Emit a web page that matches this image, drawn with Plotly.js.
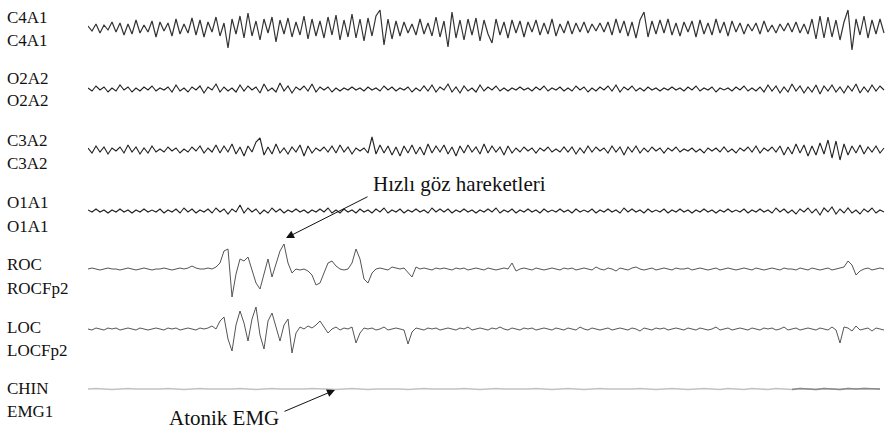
<!DOCTYPE html>
<html><head><meta charset="utf-8">
<script src="https://cdn.plot.ly/plotly-3.0.1.min.js"></script>
<style>html,body{margin:0;padding:0;background:#fff}#chart{width:889px;height:433px}</style>
</head><body><div id="chart"></div>
<script>
// channel labels (two lines each)
const labelsTop = ["C4A1","O2A2","C3A2","O1A1","ROC","LOC","CHIN"];
const labelsBottom = ["C4A1","O2A2","C3A2","O1A1","ROCFp2","LOCFp2","EMG1"];
const sampleStep = 0.15; // seconds between samples
const chinStep = 0.3;

const c4a1 = [2,-3,4,-5,3,-2,6,-4,5,-7, 4,-6,8,-5,3,-4,7,-9,6,-3, 5,-8,9,-6,4,-5,10,-7,8,-9, 6,-4,11,-8,5,-20,9,-6,12,-10,
 15,-8,7,-12,9,-5,11,-14,8,-6, 10,-9,6,-7,12,-11,9,-8,7,-10, 11,-7,13,-12,8,-9,14,-10,9,-13, 10,-8,12,18,-17,9,-11,7,-8,6,
 -5,4,-7,9,-6,5,-8,11,-9,7, -19,16,-10,8,-12,9,-7,10,-13,8, -6,-15,9,-7,6,-10,8,-5,7,-9, 6,-4,8,-7,5,-6,9,-8,4,-5,
 7,-6,5,-4,6,-5,4,-3,5,-4, 6,-7,9,-5,7,-8,6,-10,8,16, -9,7,-6,8,-5,9,-7,5,-8,6, -4,7,-9,8,-6,5,-7,9,-5,6,
 -8,7,-4,5,-6,4,-3,5,-6,7, -4,3,-5,4,-3,5,-4,6,-5,4, -6,9,-11,12,-10,11,-9,8,-12,6, 18,-22,9,-7,12,-10,8,-6,9,-5];

const o2a2 = [1,-2,3,-1,2,-3,1,-2,4,-1, 2,-3,1,-2,2,-1,3,-2,1,-1, 2,-3,4,-2,1,-3,2,-1,3,-4, 2,-1,5,-3,2,-2,1,-3,4,-2,
 3,-1,2,-4,5,-2,1,-3,6,-2, 3,-4,2,-1,3,-2,5,-3,2,-1, 2,-3,1,-2,1,-1,2,-1,1,-2, 2,-1,1,-2,3,-1,2,-2,1,-1,
 2,-3,1,-2,3,-2,4,-3,2,-1, 5,-3,2,-4,3,-2,1,-3,4,-2, 2,-1,3,-2,1,-2,1,-1,2,-1, 1,-2,2,-1,3,-2,1,-1,2,-2,
 1,-2,3,-1,2,-3,1,-2,2,-1, 3,-2,4,-3,2,-1,3,-2,1,-2, 2,-1,1,-2,1,-1,2,-1,1,-2, 2,-1,3,-2,1,-1,2,-3,1,-1,
 1,-2,2,-1,3,-2,1,-2,2,-3, 4,-2,3,-4,2,-3,5,-2,3,-4, 2,-3,4,-5,3,-2,4,-3,2,-4, 3,-2,5,-4,2,-3,4,-2,3,-1];

const c3a2 = [2,-3,4,-2,3,-4,2,-1,3,-3, 5,-2,3,-4,2,-3,4,-2,1,-2, 3,-1,2,-3,1,-2,3,-1,4,-3, 2,-2,5,-3,4,-2,6,-4,3,-6,
 4,-2,8,12,-5,3,-4,6,-3,2, -4,3,-2,5,-6,4,-3,2,-1,3, -2,4,-3,5,-2,3,-4,2,-1,2, -3,13,-4,5,-3,4,-5,3,-6,4,
 -3,5,-4,3,-5,6,-3,4,-2,5, -4,3,-6,4,-3,5,-2,3,-4,6, -3,4,-2,3,-5,4,-3,2,-2,3, -1,2,-3,2,-1,3,-2,1,-2,3,
 -2,3,-4,2,-3,4,-2,3,-1,2, -3,4,-2,3,-5,3,-2,4,-3,2, -2,3,-1,2,-3,2,-1,3,-2,1, -1,2,-2,1,-3,2,-1,2,-2,3,
 -2,1,-3,2,-1,3,-2,4,-3,2, -1,3,-2,4,-5,3,-4,6,-3,5, -6,4,-5,7,-4,10,-8,9,-10,6, -5,4,-3,5,-4,3,-2,4,-3,2];

const o1a1 = [1,-1,2,-1,1,-2,1,-1,2,-1, 1,-2,1,-1,2,-1,1,-1,2,-2, 1,-1,2,-2,3,-1,2,-2,1,-1, 2,-2,3,-1,2,-3,2,-1,6,-2,
 3,-1,2,-3,1,-2,3,-1,2,-2, 1,-1,2,-1,1,-2,1,-1,2,-1, 3,-2,1,-2,2,-1,1,-2,2,-1, 1,-2,2,-1,3,-2,1,-1,2,-2,
 1,-1,2,-1,1,-2,3,-1,2,-1, 2,-2,1,-1,2,-1,1,-2,1,-1, 2,-1,3,-2,1,-1,2,-2,1,-1, 2,-1,1,-2,2,-1,1,-1,2,-1,
 1,-2,2,-1,1,-1,2,-2,1,-1, 2,-1,1,-2,3,-1,2,-1,1,-2, 2,-1,1,-1,2,-2,1,-1,2,-1, 1,-2,1,-1,2,-1,1,-2,1,-1,
 2,-1,1,-1,2,-2,1,-1,2,-1, 1,-2,3,-1,2,-2,1,-3,2,-1, 3,-2,2,-4,3,-1,4,-3,2,-2, 3,-2,1,-3,2,-1,3,-2,1,-1];

const roc = [0,1,0,-1,0,1,0,0,-1,0, 1,0,-1,0,1,0,-1,0,0,1, 0,-1,0,1,0,1,3,1,0,0, 1,0,2,
 6,18,20,-28,-5,10,8,12,-2,-14,-20,-6,10,-8,4,18,25,6,-4,0,
 -1,0,-2,-6,-16,-14,-4,6,8,3,0,-1,0,6,20,10,-10,-14,-4,0,
 1,0,-1,2,1,0,1,
 -3,-8,2,0,1,0,-1,1,0,1, 0,-1,1,0,1,-1,0,1,0,-1, 1,0,-1,0,1,0,6,-2,0,1, 0,-1,1,0,-1,0,1,0,-1,1,
 0,1,-1,0,1,0,-1,2,0,-1, 1,0,-2,1,0,-1,1,2,0,-1, 0,1,-1,0,1,0,-1,1,0,0, 1,-1,0,1,0,-1,0,1,-1,0,
 1,0,-1,0,1,0,-1,1,0,-1, 0,1,0,-1,1,0,0,-1,1,0, -1,1,0,-1,0,1,-1,0,1,2, 8,4,-6,-2,0,1,-1,0,1,0];

const loc = [0,-1,1,0,-1,1,0,1,-1,0, 1,0,-1,1,0,-1,0,1,0,-1, 1,0,1,-1,0,1,0,-1,1,0,
 1,3,0,8,12,-10,-22,4,18,6, -12,10,22,-6,-20,8,16,2,-12,4, 10,-24,-4,2,0,3,1,4,8,2,
 -4,0,2,-1,1,0,2,-14,-4,1, 0,1,-1,0,2,-1,0,1,0,-1, -15,-3,1,0,-1,1,0,1,-1,0, 1,0,-1,1,0,2,-1,0,1,0,
 -1,1,0,2,0,-1,1,0,-1,1, 0,1,-1,0,1,0,-1,1,0,-1, 1,0,-1,2,0,-1,1,0,-1,0, 1,-1,0,1,0,-1,1,0,-2,1,
 0,-1,1,0,1,-1,0,1,0,-1, 1,0,-1,1,0,-1,0,2,-1,0, 1,-1,0,1,0,-1,1,0,-1,1, 0,1,-1,0,2,-1,0,1,-1,0,
 1,0,-1,1,0,-1,2,-1,-14,2, 1,-2,3,-1,0,1,-2,1,0,-1];

const chin = [0,0.5,0,-0.5,0,0.5,0,0,-0.5,0, 0.5,0,-0.5,0,0.5,0,0,-0.5,0,0.5, 0,-0.5,0,0.5,0,0,-0.5,0,0.5,0,
 0,-0.5,0,0.5,0,-0.5,0,0,0.5,0, -0.5,0,0.5,0,0,-0.5,0,0.5,0,-0.5, 0,0.5,0,0,-0.5,0,0.5,0,-0.5,0,
 0.5,0,-0.5,0,0.5,0,0,-0.5,0,0.5, 0,-0.5,0,0.5,0,-0.5,0,0.5,0,-0.5, 0.5,0,-0.5,0.5,0,-0.5,0.5,0,-0.5,0.5, 0,-0.5,0.5,0,-0.5,0.5,0,0.5,0,0];

const W = 889, H = 433;
const channels = [
  {data: c4a1, center: 28, half: 26, color: "#333", width: 1.2, step: sampleStep},
  {data: o2a2, center: 89, half: 26, color: "#222", width: 1.1, step: sampleStep},
  {data: c3a2, center: 150, half: 26, color: "#222", width: 1.1, step: sampleStep},
  {data: o1a1, center: 211, half: 26, color: "#222", width: 1.1, step: sampleStep},
  {data: roc, center: 269, half: 36, color: "#555", width: 1, step: sampleStep},
  {data: loc, center: 329, half: 36, color: "#555", width: 1, step: sampleStep},
  {data: chin, center: 389, half: 10, color: "#c2c2c2", width: 1.5, step: chinStep}
];
const labelY = [[17,40],[78,101],[140,163],[202,226],[264,288],[327,350],[388,411]];

const traces = [];
const layout = {
  width: W, height: H, margin: {l:0,r:0,t:0,b:0},
  paper_bgcolor: "#fff", plot_bgcolor: "#fff", showlegend: false,
  xaxis: {domain: [88/W, 1], range: [0, 801/4*sampleStep], visible: false, fixedrange: true},
  annotations: []
};
channels.forEach((ch, k) => {
  const ax = k === 0 ? "y" : "y" + (k+1);
  const key = k === 0 ? "yaxis" : "yaxis" + (k+1);
  traces.push({
    type: "scatter", mode: "lines",
    x: ch.data.map((_, i) => i * ch.step), y: ch.data,
    xaxis: "x", yaxis: ax,
    line: {color: ch.color, width: ch.width}, hoverinfo: "skip"
  });
  layout[key] = {
    domain: [1 - (ch.center + ch.half)/H, 1 - (ch.center - ch.half)/H],
    range: [-ch.half, ch.half], visible: false, fixedrange: true, anchor: "x"
  };
  [labelsTop[k], labelsBottom[k]].forEach((t, j) => {
    layout.annotations.push({
      text: t, xref: "paper", yref: "paper", x: 5/W, y: 1 - labelY[k][j]/H,
      xanchor: "left", yanchor: "middle", showarrow: false,
      font: {family: "Liberation Serif", size: 17, color: "#111"}
    });
  });
});
// darker right end of the chin EMG line (same data, later samples)
const tailStart = 88;
const chinTail = chin.slice(tailStart);
traces.push({
  type: "scatter", mode: "lines",
  x: chinTail.map((_, i) => (i + tailStart) * chinStep), y: chinTail,
  xaxis: "x", yaxis: "y7", line: {color: "#8a8a8a", width: 1.5}, hoverinfo: "skip"
});
// text annotations
layout.annotations.push({
  text: "Hızlı göz hareketleri", xref: "paper", yref: "paper", x: 371/W, y: 1 - 184/H,
  xanchor: "left", yanchor: "middle", showarrow: false,
  font: {family: "Liberation Serif", size: 21, color: "#111"}
});
layout.annotations.push({
  text: "", xref: "paper", yref: "paper", x: 286/W, y: 1 - 238/H,
  showarrow: true, ax: 83, ay: -42, arrowhead: 2, arrowsize: 1.6, arrowwidth: 1, arrowcolor: "#111"
});
layout.annotations.push({
  text: "Atonik EMG", xref: "paper", yref: "paper", x: 281/W, y: 1 - 418/H,
  xanchor: "right", yanchor: "middle", showarrow: false,
  font: {family: "Liberation Serif", size: 21, color: "#111"}
});
layout.annotations.push({
  text: "", xref: "paper", yref: "paper", x: 335/W, y: 1 - 390/H,
  showarrow: true, ax: -52, ay: 22, arrowhead: 2, arrowsize: 1.6, arrowwidth: 1, arrowcolor: "#111"
});
Plotly.newPlot("chart", traces, layout, {displayModeBar: false, staticPlot: true});
</script></body></html>
